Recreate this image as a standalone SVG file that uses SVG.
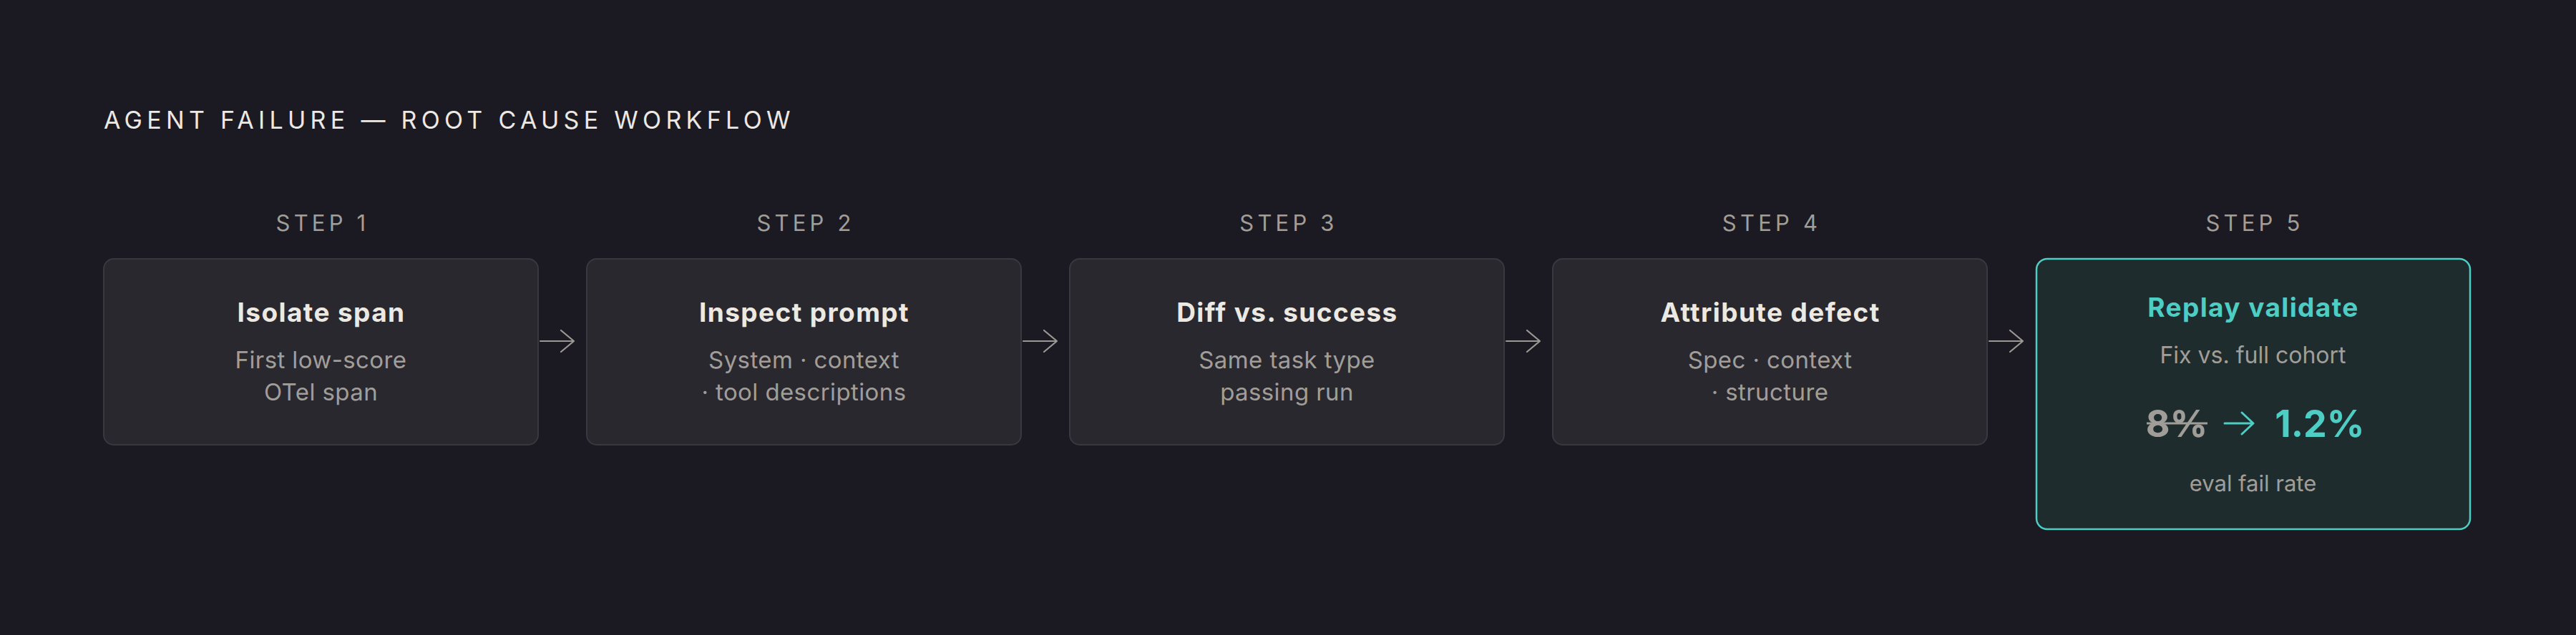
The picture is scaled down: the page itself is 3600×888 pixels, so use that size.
<svg xmlns="http://www.w3.org/2000/svg" width="3600" height="888" viewBox="0 0 3600 888">
<defs>
<style>
text{font-family:Inter,"Noto Sans","Liberation Sans",sans-serif;text-anchor:middle}
.title{font-size:34px;fill:#ece8e2;letter-spacing:6.3px;text-anchor:start}
.step{font-size:31px;fill:#a19e99;letter-spacing:5.2px}
.box{fill:#29282f;stroke:#393840;stroke-width:2}
.hbox{fill:#1f2c2d;stroke:#4ecdc4;stroke-width:2.5}
.h{font-size:37px;font-weight:700;fill:#ece8e2;letter-spacing:1.4px}
.s{font-size:33px;fill:#a19e99;letter-spacing:0.4px}
.s5{font-size:32px;fill:#a19e99}
.conn{stroke:#9c9994;stroke-width:2.2;fill:none;stroke-linecap:round;stroke-linejoin:round}
</style>
</defs>
<rect x="0" y="0" width="3600" height="888" fill="#1b1a22"/>
<text class="title" x="145" y="180">AGENT FAILURE — ROOT CAUSE WORKFLOW</text>

<g id="node1">
<text class="step" x="451" y="323">STEP 1</text>
<rect class="box" x="145" y="362" width="607" height="260" rx="14"/>
<text class="h" x="449" y="450">Isolate span</text>
<text class="s" x="448.5" y="515">First low-score</text>
<text class="s" x="448.5" y="560">OTel span</text>
</g>
<g id="node2">
<text class="step" x="1126" y="323">STEP 2</text>
<rect class="box" x="820" y="362" width="607" height="260" rx="14"/>
<text class="h" x="1124" y="450">Inspect prompt</text>
<text class="s" x="1123.5" y="515">System · context</text>
<text class="s" x="1123.5" y="560">· tool descriptions</text>
</g>
<g id="node3">
<text class="step" x="1801" y="323">STEP 3</text>
<rect class="box" x="1495" y="362" width="607" height="260" rx="14"/>
<text class="h" x="1799" y="450">Diff vs. success</text>
<text class="s" x="1798.5" y="515">Same task type</text>
<text class="s" x="1798.5" y="560">passing run</text>
</g>
<g id="node4">
<text class="step" x="2476" y="323">STEP 4</text>
<rect class="box" x="2170" y="362" width="607" height="260" rx="14"/>
<text class="h" x="2474" y="450">Attribute defect</text>
<text class="s" x="2473.5" y="515">Spec · context</text>
<text class="s" x="2473.5" y="560">· structure</text>
</g>
<g id="node5">
<text class="step" x="3151" y="323">STEP 5</text>
<rect class="hbox" x="2846" y="362" width="606" height="378" rx="15"/>
<text class="h" x="3149" y="443" style="fill:#4ecdc4">Replay validate</text>
<text class="s5" x="3148.5" y="508">Fix vs. full cohort</text>
<text x="3042" y="611" style="font-size:52px;font-weight:700;fill:#a09d99">8%</text>
<line x1="3000" y1="592" x2="3085" y2="592" stroke="#a09d99" stroke-width="3"/>
<path d="M3109 592 H3149 M3133 577 L3149 592 L3133 607" stroke="#4ecdc4" stroke-width="3" fill="none" stroke-linecap="round" stroke-linejoin="round"/>
<text x="3242" y="611" style="font-size:52px;font-weight:700;fill:#4ecdc4">1.2%</text>
<text class="s5" x="3148.5" y="687" style="font-size:31px">eval fail rate</text>
</g>

<g id="connectors">
<path class="conn" d="M755 477 H802 M784 462 L802 477 L784 492"/>
<path class="conn" d="M1430 477 H1477 M1459 462 L1477 477 L1459 492"/>
<path class="conn" d="M2105 477 H2152 M2134 462 L2152 477 L2134 492"/>
<path class="conn" d="M2780 477 H2827 M2809 462 L2827 477 L2809 492"/>
</g>
</svg>
